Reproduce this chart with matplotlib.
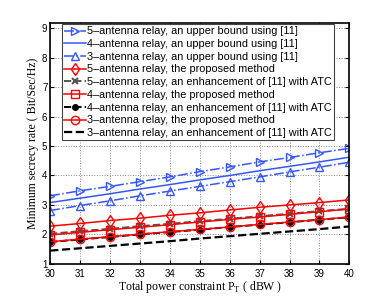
import numpy as np
import matplotlib.pyplot as plt

# Data
power_dbw = [30, 31, 32, 33, 34, 35, 36, 37, 38, 39, 40]

ub_5ant = [3.31, 3.48, 3.63, 3.79, 3.95, 4.13, 4.29, 4.46, 4.61, 4.77, 4.92]
ub_4ant = [3.08, 3.23, 3.38, 3.54, 3.69, 3.85, 4.00, 4.16, 4.31, 4.46, 4.62]
ub_3ant = [2.81, 2.98, 3.14, 3.31, 3.47, 3.63, 3.79, 3.95, 4.12, 4.28, 4.45]

prop_5ant = [2.28, 2.37, 2.47, 2.55, 2.65, 2.73, 2.83, 2.92, 3.00, 3.08, 3.17]
prop_4ant = [1.98, 2.07, 2.16, 2.24, 2.33, 2.42, 2.51, 2.59, 2.68, 2.77, 2.86]
prop_3ant = [1.75, 1.84, 1.92, 2.01, 2.09, 2.17, 2.25, 2.34, 2.42, 2.50, 2.59]

atc_5ant = [2.02, 2.11, 2.19, 2.28, 2.36, 2.45, 2.53, 2.62, 2.70, 2.79, 2.87]
atc_4ant = [1.74, 1.83, 1.91, 2.00, 2.08, 2.16, 2.25, 2.33, 2.41, 2.50, 2.58]
atc_3ant = [1.45, 1.53, 1.61, 1.69, 1.77, 1.86, 1.94, 2.02, 2.10, 2.18, 2.27]

labels = [
    '5\u2013antenna relay, an upper bound using [11]',
    '4\u2013antenna relay, an upper bound using [11]',
    '3\u2013antenna relay, an upper bound using [11]',
    '5\u2013antenna relay, the proposed method',
    '5\u2013antenna relay, an enhancement of [11] with ATC',
    '4\u2013antenna relay, the proposed method',
    '4\u2013antenna relay, an enhancement of [11] with ATC',
    '3\u2013antenna relay, the proposed method',
    '3\u2013antenna relay, an enhancement of [11] with ATC',
]

blue = '#3556ff'
red = '#ff0000'

fig = plt.figure(figsize=(3.86, 3.04), dpi=100)
ax = fig.add_axes([0.130, 0.132, 0.775, 0.792])

ms = 6
ax.plot(power_dbw, ub_5ant, '-.', color=blue, marker='>', ms=ms, mfc='none', lw=1.1, label=labels[0])
ax.plot(power_dbw, ub_4ant, '-', color=blue, lw=1.1, label=labels[1])
ax.plot(power_dbw, ub_3ant, '-.', color=blue, marker='^', ms=ms, mfc='none', lw=1.1, label=labels[2])
ax.plot(power_dbw, prop_5ant, '-', color=red, marker='d', ms=ms, mfc='none', lw=1.1, label=labels[3])
ax.plot(power_dbw, atc_5ant, '--', color='#555555', marker='x', ms=4, mew=1.5, lw=1.4, label=labels[4])
ax.plot(power_dbw, prop_4ant, '-', color=red, marker='s', ms=ms, mfc='none', lw=1.1, label=labels[5])
ax.plot(power_dbw, atc_4ant, '--', color='black', marker='o', ms=4, lw=1.4, label=labels[6])
ax.plot(power_dbw, prop_3ant, '-', color=red, marker='o', ms=ms, mfc='none', lw=1.1, label=labels[7])
ax.plot(power_dbw, atc_3ant, '--', color='black', lw=1.6, label=labels[8])

ax.set_xlim(30, 40)
ax.set_ylim(1, 9.17)
ax.set_xticks(power_dbw)
ax.set_yticks(range(1, 10))
ax.tick_params(direction='in', top=True, right=True, labelsize=7, length=3)
ax.tick_params(axis='x', pad=3.5)
ax.tick_params(axis='y', pad=2)
for t in ax.get_xticklabels() + ax.get_yticklabels():
    t.set_family('Liberation Sans')
ax.grid(True, linestyle=':', color='#888888', lw=0.7)
for s in ax.spines.values():
    s.set_linewidth(1.2)

ax.set_xlabel('Total power constraint P$_\\mathregular{T}$ ( dBW )', family='Liberation Serif', fontsize=8.5, labelpad=0.5)
ax.set_ylabel('Minimum secrecy rate ( Bit/Sec/Hz)', family='Liberation Serif', fontsize=8.5, labelpad=2)

leg = ax.legend(loc='upper left', bbox_to_anchor=(0.035, 1.0), prop={'family': 'Liberation Sans', 'size': 7.8},
                fancybox=False, edgecolor='#444444', framealpha=1, handlelength=2.0, handletextpad=0.15,
                labelspacing=0.25, borderpad=0.2, borderaxespad=0.1)
leg.get_frame().set_linewidth(0.8)

plt.savefig('out.png', dpi=100)
plt.close()
